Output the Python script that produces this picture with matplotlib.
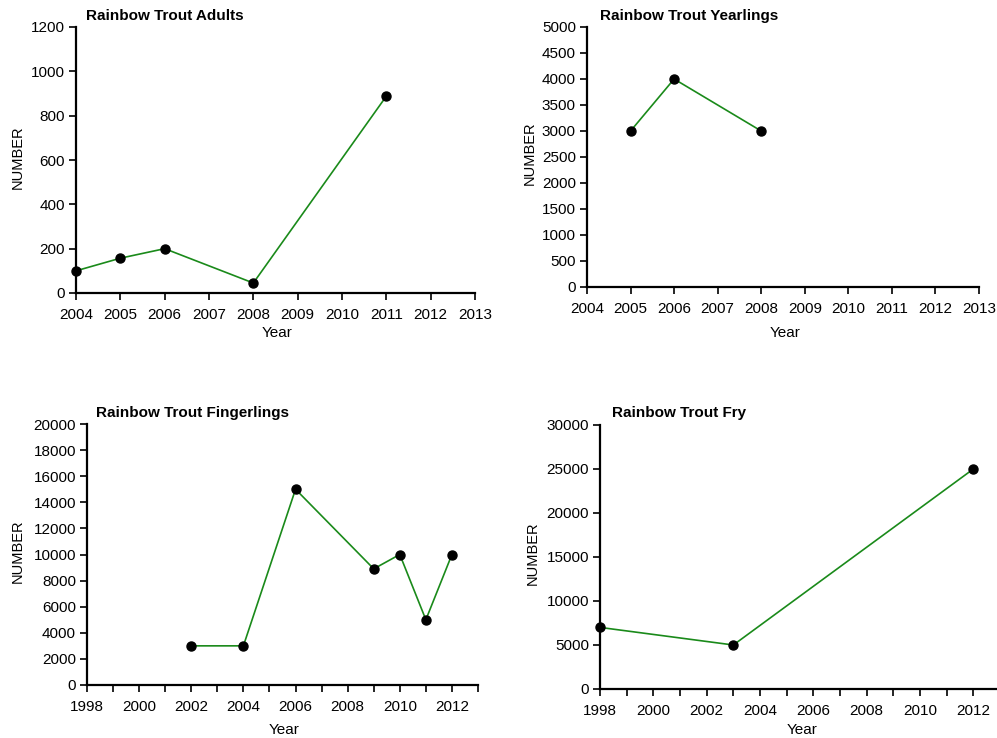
import numpy as np
import matplotlib.pyplot as plt

plt.rcParams['font.family'] = ['Liberation Sans', 'DejaVu Sans']

# stocking numbers by year
adult_years = [2004, 2005, 2006, 2008, 2011]
adult_counts = [100, 157, 200, 45, 888]

yearling_years = [2005, 2006, 2008]
yearling_counts = [3000, 4000, 3000]

fingerling_years = [2002, 2004, 2006, 2009, 2010, 2011, 2012]
fingerling_counts = [3000, 3000, 15000, 8900, 10000, 5000, 10000]

fry_years = [1998, 2003, 2012]
fry_counts = [7000, 5000, 25000]

W, H = 997, 738
fig = plt.figure(figsize=(W / 100, H / 100), dpi=100)


def px_axes(left, top, right, bottom):
    return fig.add_axes([left / W, 1 - bottom / H, (right - left) / W, (bottom - top) / H])


def style(ax):
    for s in ['top', 'right']:
        ax.spines[s].set_visible(False)
    for s in ['left', 'bottom']:
        ax.spines[s].set_linewidth(1.6)
        ax.spines[s].set_clip_on(False)
    ax.tick_params(direction='out', length=5, width=1.2, labelsize=11)
    ax.tick_params(axis='x', pad=6)
    ax.tick_params(axis='y', pad=3)


def draw(ax, x, y):
    ax.plot(x, y, color='#1a8a1a', lw=1.2, marker='o', ms=6.5,
            mfc='black', mec='black', clip_on=False, zorder=3)


def labels(title, tx, ty, ylx, yly, xlx, xly):
    fig.text(tx / W, 1 - ty / H, title, fontsize=11, fontweight='bold',
             ha='left', va='center')
    fig.text(ylx / W, 1 - yly / H, 'NUMBER', fontsize=10.5, rotation=90,
             ha='center', va='center')
    fig.text(xlx / W, 1 - xly / H, 'Year', fontsize=11,
             ha='center', va='center')


# adults
ax1 = px_axes(76, 27, 475, 293)
style(ax1)
draw(ax1, adult_years, adult_counts)
ax1.set_xlim(2004, 2013)
ax1.set_ylim(0, 1200)
ax1.set_xticks(range(2004, 2014))
ax1.set_yticks(range(0, 1201, 200))
labels('Rainbow Trout Adults', 86, 16, 18, 157, 277, 333)

# yearlings
ax2 = px_axes(587, 27, 979, 287)
style(ax2)
draw(ax2, yearling_years, yearling_counts)
ax2.set_xlim(2004, 2013)
ax2.set_ylim(0, 5000)
ax2.set_xticks(range(2004, 2014))
ax2.set_yticks(range(0, 5001, 500))
labels('Rainbow Trout Yearlings', 600, 16, 530, 153, 785, 333)

# fingerlings
ax3 = px_axes(87, 424, 478, 685)
style(ax3)
draw(ax3, fingerling_years, fingerling_counts)
ax3.set_xlim(1998, 2013)
ax3.set_ylim(0, 20000)
yrs = list(range(1998, 2014))
ax3.set_xticks(yrs)
ax3.set_xticklabels([str(y) if y % 2 == 0 else '' for y in yrs])
ax3.set_yticks(range(0, 20001, 2000))
labels('Rainbow Trout Fingerlings', 96, 413, 18, 551, 284, 730)

# fry
ax4 = px_axes(600, 425, 1000, 689)
style(ax4)
draw(ax4, fry_years, fry_counts)
ax4.set_xlim(1998, 2013)
ax4.set_ylim(0, 30000)
ax4.set_xticks(yrs)
ax4.set_xticklabels([str(y) if y % 2 == 0 else '' for y in yrs])
ax4.set_yticks(range(0, 30001, 5000))
labels('Rainbow Trout Fry', 612, 413, 533, 553, 802, 730)

fig.savefig('out.png', dpi=100)
